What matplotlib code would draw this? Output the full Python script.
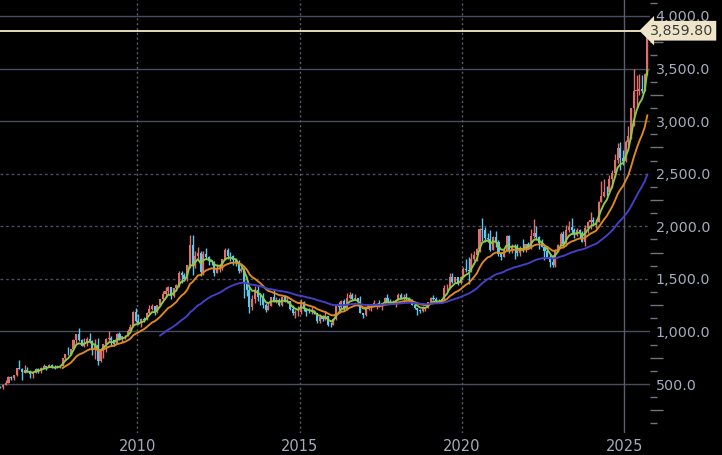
import numpy as np
import matplotlib
matplotlib.use("Agg")
import matplotlib.pyplot as plt
from matplotlib.ticker import FixedLocator, FuncFormatter

# Monthly gold (USD/oz) candles, Oct 2005 .. Sep 2025
start_year, start_month = 2005, 10

opens = [
    473, 470, 495,
    513, 568, 556, 582, 654, 643, 614, 633, 624, 599, 604, 646,
    632, 650, 669, 662, 680, 659, 650, 666, 673, 743, 789, 783,
    834, 923, 972, 916, 865, 886, 930, 912, 834, 871, 718, 816,
    882, 928, 942, 916, 884, 979, 927, 954, 955, 1008, 1040, 1182,
    1097, 1081, 1118, 1113, 1180, 1213, 1244, 1181, 1248, 1308, 1358, 1386,
    1421, 1333, 1410, 1439, 1556, 1536, 1501, 1628, 1826, 1620, 1722, 1746,
    1565, 1738, 1710, 1668, 1664, 1560, 1604, 1614, 1692, 1773, 1719, 1713,
    1675, 1663, 1579, 1595, 1472, 1393, 1234, 1313, 1395, 1327, 1323, 1253,
    1202, 1244, 1326, 1284, 1296, 1250, 1327, 1282, 1287, 1210, 1171, 1183,
    1184, 1283, 1212, 1183, 1182, 1190, 1172, 1095, 1134, 1115, 1142, 1065,
    1061, 1118, 1238, 1233, 1293, 1215, 1322, 1351, 1309, 1316, 1277, 1173,
    1152, 1211, 1249, 1249, 1268, 1269, 1242, 1269, 1322, 1280, 1271, 1275,
    1303, 1345, 1318, 1325, 1316, 1299, 1253, 1224, 1201, 1192, 1215, 1222,
    1282, 1321, 1313, 1292, 1283, 1305, 1409, 1413, 1520, 1472, 1513, 1464,
    1517, 1589, 1585, 1577, 1687, 1730, 1781, 1975, 1968, 1886, 1879, 1777,
    1898, 1847, 1734, 1708, 1769, 1907, 1770, 1814, 1813, 1743, 1783, 1774,
    1829, 1797, 1909, 1937, 1897, 1837, 1807, 1766, 1711, 1661, 1633, 1768,
    1824, 1928, 1827, 1969, 1990, 1963, 1919, 1965, 1940, 1849, 1983, 2036,
    2063, 2039, 2044, 2230, 2286, 2327, 2326, 2447, 2503, 2634, 2744, 2654,
    2624, 2798, 2858, 3124, 3288, 3289, 3303, 3290, 3448,
]
highs = [
    480, 498, 541,
    572, 574, 584, 656, 730, 648, 676, 664, 635, 610, 650, 648,
    657, 690, 672, 693, 691, 676, 684, 680, 745, 790, 848, 836,
    930, 975, 1034, 930, 937, 944, 988, 915, 926, 935, 828, 885,
    933, 1007, 960, 921, 981, 991, 960, 965, 1025, 1070, 1195, 1227,
    1163, 1125, 1139, 1181, 1249, 1265, 1245, 1250, 1311, 1388, 1424, 1431,
    1424, 1412, 1447, 1576, 1577, 1553, 1632, 1913, 1921, 1761, 1803, 1764,
    1764, 1791, 1718, 1679, 1666, 1640, 1631, 1693, 1790, 1796, 1755, 1725,
    1695, 1683, 1616, 1605, 1488, 1424, 1348, 1434, 1434, 1361, 1362, 1267,
    1280, 1332, 1392, 1331, 1315, 1332, 1345, 1323, 1290, 1255, 1206, 1238,
    1307, 1286, 1224, 1224, 1232, 1205, 1175, 1170, 1157, 1191, 1142, 1088,
    1125, 1263, 1283, 1297, 1304, 1362, 1375, 1367, 1352, 1317, 1338, 1180,
    1220, 1264, 1261, 1296, 1273, 1296, 1270, 1331, 1357, 1306, 1299, 1306,
    1366, 1362, 1356, 1366, 1326, 1309, 1266, 1224, 1214, 1243, 1237, 1284,
    1326, 1346, 1324, 1310, 1306, 1439, 1453, 1555, 1557, 1517, 1516, 1524,
    1611, 1689, 1704, 1748, 1765, 1789, 1984, 2075, 1992, 1933, 1966, 1906,
    1959, 1872, 1755, 1798, 1913, 1917, 1832, 1832, 1834, 1814, 1877, 1831,
    1853, 1974, 2070, 1998, 1910, 1879, 1814, 1808, 1735, 1730, 1786, 1833,
    1949, 1959, 2009, 2049, 2082, 1984, 1987, 1970, 1953, 2009, 2052, 2135,
    2088, 2065, 2236, 2431, 2450, 2387, 2484, 2531, 2685, 2790, 2801, 2726,
    2817, 2956, 3128, 3500, 3435, 3452, 3439, 3454, 3872,
]
lows = [
    460, 456, 491,
    513, 539, 538, 580, 640, 542, 607, 615, 560, 560, 604, 607,
    602, 650, 636, 662, 651, 642, 648, 651, 673, 720, 775, 780,
    834, 876, 905, 860, 849, 859, 902, 774, 737, 681, 705, 745,
    802, 900, 864, 866, 882, 915, 904, 932, 955, 1000, 1040, 1085,
    1075, 1045, 1088, 1112, 1164, 1200, 1157, 1177, 1241, 1300, 1330, 1360,
    1309, 1328, 1382, 1418, 1462, 1478, 1480, 1604, 1535, 1600, 1678, 1523,
    1540, 1688, 1627, 1628, 1527, 1551, 1562, 1581, 1683, 1692, 1672, 1636,
    1626, 1555, 1563, 1321, 1338, 1180, 1208, 1271, 1291, 1251, 1221, 1185,
    1202, 1238, 1282, 1268, 1240, 1240, 1281, 1273, 1206, 1160, 1131, 1142,
    1167, 1191, 1142, 1175, 1170, 1162, 1077, 1080, 1098, 1106, 1053, 1046,
    1061, 1107, 1208, 1208, 1199, 1208, 1310, 1301, 1303, 1241, 1171, 1123,
    1146, 1200, 1195, 1240, 1214, 1236, 1204, 1259, 1277, 1260, 1263, 1237,
    1303, 1307, 1303, 1302, 1282, 1247, 1211, 1160, 1180, 1182, 1196, 1221,
    1276, 1302, 1281, 1266, 1267, 1301, 1381, 1400, 1459, 1459, 1445, 1453,
    1517, 1563, 1451, 1568, 1670, 1671, 1758, 1863, 1849, 1860, 1765, 1775,
    1803, 1717, 1677, 1705, 1766, 1750, 1750, 1688, 1721, 1721, 1759, 1753,
    1780, 1786, 1890, 1872, 1787, 1805, 1681, 1709, 1615, 1617, 1616, 1765,
    1823, 1804, 1810, 1950, 1932, 1893, 1903, 1885, 1846, 1810, 1932, 1974,
    2002, 1985, 2039, 2228, 2277, 2286, 2319, 2364, 2472, 2604, 2536, 2583,
    2614, 2772, 2833, 2957, 3121, 3246, 3268, 3282, 3437,
]
closes = [
    470, 495, 513,
    568, 556, 582, 654, 643, 614, 633, 624, 599, 604, 646, 632,
    650, 669, 662, 680, 659, 650, 666, 673, 743, 789, 783, 834,
    923, 972, 916, 865, 886, 930, 912, 834, 871, 718, 816, 882,
    928, 942, 916, 884, 979, 927, 954, 955, 1008, 1040, 1182, 1097,
    1081, 1118, 1113, 1180, 1213, 1244, 1181, 1248, 1308, 1358, 1386, 1421,
    1333, 1410, 1439, 1556, 1536, 1501, 1628, 1826, 1620, 1722, 1746, 1565,
    1738, 1710, 1668, 1664, 1560, 1604, 1614, 1692, 1773, 1719, 1713, 1675,
    1663, 1579, 1595, 1472, 1393, 1234, 1313, 1395, 1327, 1323, 1253, 1202,
    1244, 1326, 1284, 1296, 1250, 1327, 1282, 1287, 1210, 1171, 1183, 1184,
    1283, 1212, 1183, 1182, 1190, 1172, 1095, 1134, 1115, 1142, 1065, 1061,
    1118, 1238, 1233, 1293, 1215, 1322, 1351, 1309, 1316, 1277, 1173, 1152,
    1211, 1249, 1249, 1268, 1269, 1242, 1269, 1322, 1280, 1271, 1275, 1303,
    1345, 1318, 1325, 1316, 1299, 1253, 1224, 1201, 1192, 1215, 1222, 1282,
    1321, 1313, 1292, 1283, 1305, 1409, 1413, 1520, 1472, 1513, 1464, 1517,
    1589, 1585, 1577, 1687, 1730, 1781, 1975, 1968, 1886, 1879, 1777, 1898,
    1847, 1734, 1708, 1769, 1907, 1770, 1814, 1813, 1743, 1783, 1774, 1829,
    1797, 1909, 1937, 1897, 1837, 1807, 1766, 1711, 1661, 1633, 1768, 1824,
    1928, 1827, 1969, 1990, 1963, 1919, 1965, 1940, 1849, 1983, 2036, 2063,
    2039, 2044, 2230, 2286, 2327, 2326, 2447, 2503, 2634, 2744, 2654, 2624,
    2798, 2858, 3124, 3288, 3289, 3303, 3290, 3448, 3859.8,
]
last_price = 3859.80
ema_spans = [5, 15, 43]                       # green, orange, blue
ema_first_shown = ["2006-07", "2007-09", "2010-09"]
year_ticks = [2010, 2015, 2020, 2025]
price_ticks = [500, 1000, 1500, 2000, 2500, 3000, 3500, 4000]

o = np.array(opens, float); h = np.array(highs, float)
l = np.array(lows, float); c = np.array(closes, float)
n = len(c)
t = start_year + (start_month - 1 + np.arange(n) + 0.5) / 12.0

BG = "#000000"
UP = "#df6f6c"
DN = "#5cc8f0"
TXT = "#a4acbc"
GRID = "#4a4e5c"

fig = plt.figure(figsize=(7.22, 4.55), dpi=100, facecolor=BG)
ax = fig.add_axes([0, 22 / 455, 650 / 722, 433 / 455])
ax.set_facecolor(BG)

# grid
for v in price_ticks:
    ls = (0, (2, 2)) if v in (1500, 2000, 2500) else "-"
    ax.axhline(v, color=GRID, lw=1.0, ls=ls, zorder=0)
for yv in year_ticks:
    ls = "-" if yv == 2025 else (0, (1.5, 2))
    ax.axvline(yv, color="#5a5e6c", lw=1.0, ls=ls, zorder=0)

# candles
up = c >= o
cols = np.where(up, UP, DN)
ax.vlines(t, l, h, colors=cols, lw=1.0, zorder=2)
ax.bar(t, np.maximum(np.abs(c - o), 4), bottom=np.minimum(o, c), width=0.064,
       color=cols, edgecolor="none", zorder=3)

# exponential moving averages of the closes
def ema(x, span):
    a = 2.0 / (span + 1)
    out = np.empty(len(x)); out[0] = x[0]
    for i in range(1, len(x)):
        out[i] = out[i - 1] + a * (x[i] - out[i - 1])
    return out

ma_colors = ["#8ccc44", "#e08a24", "#4640c8"]
for span, col, first in zip(ema_spans, ma_colors, ema_first_shown):
    m = ema(c, span)
    fy, fm = map(int, first.split("-"))
    idx0 = (fy - start_year) * 12 + (fm - start_month)
    m[:idx0] = np.nan
    ax.plot(t, m, color=col, lw=1.35, zorder=4)

# last price line
ax.axhline(last_price, color="#e6dcbc", lw=1.4, zorder=6)

ax.set_xlim(2005.78, 2025.79)
ax.set_ylim(34, 4152)
for s in ax.spines.values():
    s.set_visible(False)

ax.xaxis.set_major_locator(FixedLocator(year_ticks))
ax.tick_params(axis="x", length=0, pad=4, labelsize=10.5, labelcolor=TXT)

ax.yaxis.tick_right()
ax.yaxis.set_major_locator(FixedLocator(price_ticks))
ax.yaxis.set_major_formatter(FuncFormatter(lambda v, p: f"{v:,.1f}"))
minor = [v for v in np.arange(125, 4152, 125) if v % 250 != 0]
ax.yaxis.set_minor_locator(FixedLocator(minor))
ax.tick_params(axis="y", which="major", length=0, pad=4, labelsize=10.3,
               labelcolor=TXT)
ax.tick_params(axis="y", which="minor", length=5, width=1, color="#70747e")
sec = ax.secondary_yaxis("right")
sec.yaxis.set_major_locator(FixedLocator([v for v in np.arange(250, 4152, 500)]))
sec.tick_params(axis="y", length=9, width=1, color="#70747e", labelright=False)
for s in sec.spines.values():
    s.set_visible(False)

ax.text(1.0, last_price, f"{last_price:,.2f}", transform=ax.get_yaxis_transform(),
        ha="left", va="center", fontsize=10.3, color="#3c3c3c", zorder=10,
        clip_on=False,
        bbox=dict(boxstyle="larrow,pad=0.2", fc="#efe6ca", ec="none"))

fig.savefig("out.png", dpi=100, facecolor=BG)
